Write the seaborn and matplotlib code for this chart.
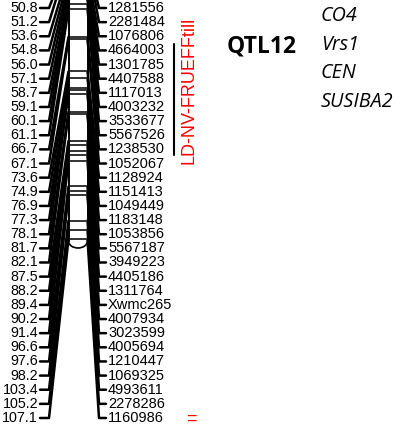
import numpy as np
import pandas as pd
import matplotlib
matplotlib.use("Agg")
import matplotlib.pyplot as plt
import seaborn as sns
from matplotlib.patches import Arc

# ---- data ----
positions = [50.8, 51.2, 53.6, 54.8, 56.0, 57.1, 58.7, 59.1, 60.1, 61.1,
             66.7, 67.1, 73.6, 74.9, 76.9, 77.3, 78.1, 81.7, 82.1, 87.5,
             88.2, 89.4, 90.2, 91.4, 96.6, 97.6, 98.2, 103.4, 105.2, 107.1]
pos_labels = ["50.8", "51.2", "53.6", "54.8", "56.0", "57.1", "58.7", "59.1", "60.1", "61.1",
              "66.7", "67.1", "73.6", "74.9", "76.9", "77.3", "78.1", "81.7", "82.1", "87.5",
              "88.2", "89.4", "90.2", "91.4", "96.6", "97.6", "98.2", "103.4", "105.2", "107.1"]
markers = ["1281556", "2281484", "1076806", "4664003", "1301785", "4407588", "1117013",
           "4003232", "3533677", "5567526", "1238530", "1052067", "1128924", "1151413",
           "1049449", "1183148", "1053856", "5567187", "3949223", "4405186", "1311764",
           "Xwmc265", "4007934", "3023599", "4005694", "1210447", "1069325", "4993611",
           "2278286", "1160986"]
qtl_name = "QTL12"
trait_name = "LD-NV-FRUEFFtill"
qtl_span = ["54.8", "66.7"]  # bracket from marker label to marker label
genes = ["CO4", "Vrs1", "CEN", "SUSIBA2"]

# ---- layout (pixel-like canvas) ----
W, H = 403, 426
sns.set_style("white")
fig = plt.figure(figsize=(W / 100, H / 100), dpi=100)
ax = fig.add_axes([0, 0, 1, 1])
ax.set_xlim(0, W)
ax.set_ylim(H, 0)
ax.axis("off")

n = len(positions)
label_y = 8 + np.arange(n) * (410 / (n - 1))
pos_arr = np.array(positions)
chrom_y = 38 + (pos_arr - 66.9) * 5.0

cl, cr = 68.5, 87.5  # chromosome edges

rows = []
for i in range(n):
    for k, (x, y) in enumerate([(40, label_y[i]), (49, label_y[i]), (cl, chrom_y[i])]):
        rows.append(dict(x=x, y=y, unit=f"L{i}", order=k))
    for k, (x, y) in enumerate([(cr, chrom_y[i]), (99, label_y[i]), (106, label_y[i])]):
        rows.append(dict(x=x, y=y, unit=f"R{i}", order=k))
conn = pd.DataFrame(rows)
sns.lineplot(data=conn, x="x", y="y", units="unit", estimator=None, sort=False,
             color="black", linewidth=1.8, ax=ax, legend=False)

# chromosome bands
bands = pd.DataFrame(dict(x=np.concatenate([np.full(n, cl), np.full(n, cr)]),
                          y=np.concatenate([chrom_y, chrom_y]),
                          unit=np.concatenate([np.arange(n), np.arange(n)])))
sns.lineplot(data=bands, x="x", y="y", units="unit", estimator=None, sort=False,
             color="#333333", linewidth=1.4, ax=ax, legend=False)

# chromosome outline with rounded bottom
end_y = chrom_y[-1] + 2
ax.plot([cl, cl], [-20, end_y], color="black", lw=1.4)
ax.plot([cr, cr], [-20, end_y], color="black", lw=1.4)
ax.add_patch(Arc(((cl + cr) / 2, end_y), cr - cl, 14, theta1=0, theta2=180,
                 color="black", lw=1.2))

# labels
for i in range(n):
    ax.text(38, label_y[i], pos_labels[i], ha="right", va="center",
            fontsize=10.3, family="Liberation Sans", color="black")
    ax.text(108, label_y[i], markers[i], ha="left", va="center",
            fontsize=10.5, family="Liberation Sans", color="black")

# QTL bracket
i0 = pos_labels.index(qtl_span[0])
i1 = pos_labels.index(qtl_span[1])
ax.plot([174, 174], [label_y[i0] - 6, label_y[i1] + 6], color="black", lw=1.5)
ax.text(189, 90, trait_name, rotation=90,
        ha="center", va="center", color="red", fontsize=13, family="Liberation Sans")
ax.text(191, 419, "=", ha="center", va="center", color="red", fontsize=13,
        family="Liberation Sans")

ax.text(227, 46, qtl_name, ha="left", va="center", fontsize=16.5,
        fontweight="bold", family="Open Sans", color="black")
for j, g in enumerate(genes):
    ax.text(321, 16 + j * 28.6, g, ha="left", va="center", fontsize=14.2,
            style="italic", family="Open Sans", color="black")

fig.savefig("out.png", dpi=100)
